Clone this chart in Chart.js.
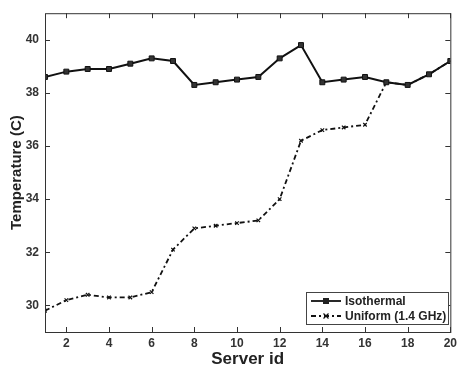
<!DOCTYPE html>
<html>
<head>
<meta charset="utf-8">
<script src="https://cdn.jsdelivr.net/npm/chart.js@4"></script>
<style>
  html, body { margin: 0; padding: 0; background: #fff; }
  #wrap { width: 461px; height: 370px; }
</style>
</head>
<body>
<div id="wrap"><canvas id="chart"></canvas></div>
<script>
// data
const serverIds = [1, 2, 3, 4, 5, 6, 7, 8, 9, 10, 11, 12, 13, 14, 15, 16, 17, 18, 19, 20];
const isothermal = [38.6, 38.8, 38.9, 38.9, 39.1, 39.3, 39.2, 38.3, 38.4, 38.5, 38.6, 39.3, 39.8, 38.4, 38.5, 38.6, 38.4, 38.3, 38.7, 39.2];
const uniform = [29.8, 30.2, 30.4, 30.3, 30.3, 30.5, 32.1, 32.9, 33.0, 33.1, 33.2, 34.0, 36.2, 36.6, 36.7, 36.8, 38.4, 38.3, 38.7, 39.2];
const xTicks = [2, 4, 6, 8, 10, 12, 14, 16, 18, 20];
const yTicks = [30, 32, 34, 36, 38, 40];

const ink = '#111';
const font = 'Liberation Sans, Arial, sans-serif';

// matlab style box + inward ticks
const boxTicks = {
  id: 'boxTicks',
  afterDraw(chart) {
    const { ctx, chartArea: a, scales } = chart;
    ctx.save();
    ctx.strokeStyle = '#333';
    ctx.lineWidth = 1;
    ctx.strokeRect(a.left + 0.5, a.top + 0.5, a.right - a.left, a.bottom - a.top);
    ctx.beginPath();
    xTicks.forEach(v => {
      const x = Math.round(scales.x.getPixelForValue(v)) + 0.5;
      ctx.moveTo(x, a.bottom); ctx.lineTo(x, a.bottom - 5);
      ctx.moveTo(x, a.top); ctx.lineTo(x, a.top + 5);
    });
    yTicks.forEach(v => {
      const y = Math.round(scales.y.getPixelForValue(v)) + 0.5;
      ctx.moveTo(a.left, y); ctx.lineTo(a.left + 5, y);
      ctx.moveTo(a.right, y); ctx.lineTo(a.right - 5, y);
    });
    ctx.stroke();

    // legend box inside the plot
    const lx = 306, ly = 292, lw = 142, lh = 32;
    ctx.fillStyle = '#fff';
    ctx.fillRect(lx, ly, lw, lh);
    ctx.strokeStyle = '#444';
    ctx.strokeRect(lx + 0.5, ly + 0.5, lw, lh);
    const rows = [
      { text: 'Isothermal', dash: [], y: ly + 9, mark: 'sq' },
      { text: 'Uniform (1.4 GHz)', dash: [5, 3, 2, 3], y: ly + 24, mark: 'x' }
    ];
    rows.forEach(r => {
      ctx.strokeStyle = ink;
      ctx.lineWidth = 1.8;
      ctx.setLineDash(r.dash);
      ctx.beginPath();
      ctx.moveTo(lx + 5, r.y); ctx.lineTo(lx + 35, r.y);
      ctx.stroke();
      ctx.setLineDash([]);
      const cx = lx + 20;
      if (r.mark === 'sq') {
        ctx.fillStyle = '#222';
        ctx.fillRect(cx - 3, r.y - 3, 6, 6);
      } else {
        ctx.lineWidth = 1.2;
        ctx.beginPath();
        ctx.moveTo(cx - 2.5, r.y - 2.5); ctx.lineTo(cx + 2.5, r.y + 2.5);
        ctx.moveTo(cx + 2.5, r.y - 2.5); ctx.lineTo(cx - 2.5, r.y + 2.5);
        ctx.stroke();
      }
      ctx.fillStyle = '#222';
      ctx.font = 'bold 12px ' + font;
      ctx.textBaseline = 'middle';
      ctx.fillText(r.text, lx + 39, r.y + 1);
    });
    ctx.restore();
  }
};

new Chart(document.getElementById('chart'), {
  type: 'line',
  data: {
    labels: serverIds,
    datasets: [
      {
        label: 'Uniform (1.4 GHz)',
        data: serverIds.map((x, i) => ({ x: x, y: uniform[i] })),
        borderColor: ink,
        borderWidth: 1.8,
        borderDash: [5, 3, 2, 3],
        pointStyle: 'crossRot',
        pointRadius: 2.5,
        pointBorderWidth: 1.2,
        pointBorderColor: ink,
        tension: 0,
        order: 2
      },
      {
        label: 'Isothermal',
        data: serverIds.map((x, i) => ({ x: x, y: isothermal[i] })),
        borderColor: ink,
        borderWidth: 2,
        pointStyle: 'rect',
        pointRadius: 3.5,
        pointBackgroundColor: '#333',
        pointBorderColor: ink,
        pointBorderWidth: 1,
        tension: 0,
        order: 1
      }
    ]
  },
  options: {
    responsive: true,
    maintainAspectRatio: false,
    animation: false,
    layout: { padding: { top: 7, right: 4, left: 0, bottom: 0 } },
    plugins: { legend: { display: false }, tooltip: { enabled: false } },
    scales: {
      x: {
        type: 'linear',
        min: 1,
        max: 20,
        afterBuildTicks: s => { s.ticks = xTicks.map(v => ({ value: v })); },
        afterFit: s => { s.height = 38; },
        grid: { display: false, drawTicks: false },
        border: { display: false },
        ticks: { color: '#333', padding: 4, maxRotation: 0, font: { family: font, size: 12, weight: 'bold' } },
        title: { display: true, text: 'Server id', color: '#222', padding: { top: 0, bottom: 0 }, font: { family: font, size: 17, weight: 'bold' } }
      },
      y: {
        min: 29,
        max: 41,
        afterBuildTicks: s => { s.ticks = yTicks.map(v => ({ value: v })); },
        afterFit: s => { s.width = 45; },
        grid: { display: false, drawTicks: false },
        border: { display: false },
        ticks: { color: '#333', padding: 6, font: { family: font, size: 12, weight: 'bold' } },
        title: { display: true, text: 'Temperature (C)', color: '#222', padding: { top: 8, bottom: 0 }, font: { family: font, size: 15, weight: 'bold' } }
      }
    }
  },
  plugins: [boxTicks]
});
</script>
</body>
</html>
